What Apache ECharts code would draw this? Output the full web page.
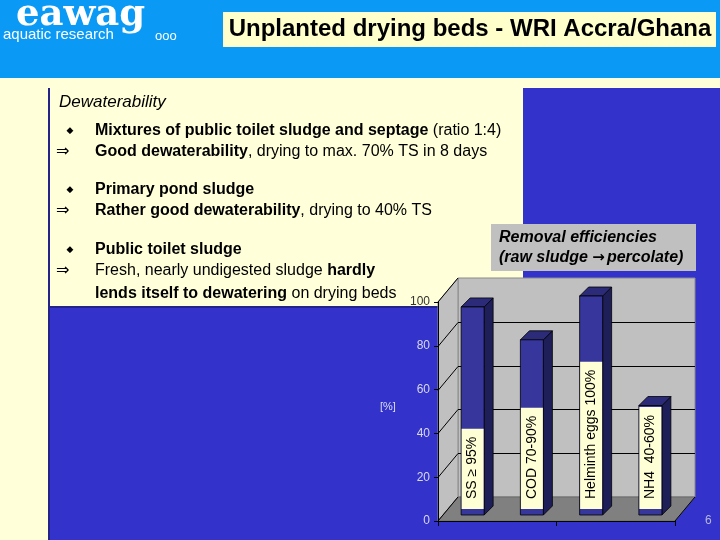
<!DOCTYPE html>
<html><head><meta charset="utf-8">
<script src="https://cdn.jsdelivr.net/npm/echarts@6/dist/echarts.min.js"></script>
<style>html,body{margin:0;padding:0;background:#FFFFD9}#c{width:720px;height:540px}</style>
</head><body><div id="c"></div><script>
// ---- data ----
const categories = ['SS', 'COD', 'Helminth eggs', 'NH4'];
const removalValues = [95, 80, 100, 50];
const barLabels = ['SS \u2265 95%', 'COD 70-90%', 'Helminth eggs 100%', 'NH4  40-60%'];
const yTicks = [0, 20, 40, 60, 80, 100];

// ---- style constants ----
const FONT = 'Arial, "Liberation Sans", sans-serif';
const DX = 20, DY = -24;     // depth of 3D frame
const SHX = 5, SHY = -6;     // bar placement inside depth
const BAR_W = 23, BD = 9;    // bar width, bar depth

const chart = echarts.init(document.getElementById('c'));

function renderFrame(params, api) {
  const cs = params.coordSys;
  const x0 = cs.x, x1 = cs.x + cs.width, yT = cs.y, yB = cs.y + cs.height;
  const ch = [];
  ch.push({type: 'polygon', shape: {points: [[x0 + DX, yT + DY], [x1 + DX, yT + DY], [x1 + DX, yB + DY], [x0 + DX, yB + DY]]},
    style: {fill: '#C0C0C0', stroke: '#8a8a8a', lineWidth: 1}});
  ch.push({type: 'polygon', shape: {points: [[x0, yT], [x0 + DX, yT + DY], [x0 + DX, yB + DY], [x0, yB]]},
    style: {fill: '#C0C0C0', stroke: '#8a8a8a', lineWidth: 1}});
  ch.push({type: 'polygon', shape: {points: [[x0, yB], [x1, yB], [x1 + DX, yB + DY], [x0 + DX, yB + DY]]},
    style: {fill: '#808080', stroke: '#6a6a6a', lineWidth: 1}});
  yTicks.forEach(t => {
    if (t === 0 || t === 100) return;
    const y = Math.round(api.coord([0, t])[1]) + 0.5;
    ch.push({type: 'polyline', shape: {points: [[x0, y], [x0 + DX, y + DY], [x1 + DX, y + DY]]},
      style: {stroke: '#000', lineWidth: 1, fill: null}});
  });
  ch.push({type: 'line', shape: {x1: x0, y1: yB, x2: x0 + DX, y2: yB + DY}, style: {stroke: '#000', lineWidth: 1}});
  ch.push({type: 'line', shape: {x1: x0, y1: yT, x2: x0 + DX, y2: yT + DY}, style: {stroke: '#000', lineWidth: 1}});
  ch.push({type: 'line', shape: {x1: x1, y1: yB, x2: x1 + DX, y2: yB + DY}, style: {stroke: '#000', lineWidth: 1}});
  return {type: 'group', children: ch};
}

function renderBar(params, api) {
  const i = api.value(0), v = api.value(1);
  const b = api.coord([i, 0]), t = api.coord([i, v]);
  const cx = b[0] + SHX, yb = b[1] + SHY, yt = t[1] + SHY;
  const xl = cx - BAR_W / 2, xr = cx + BAR_W / 2;
  return {type: 'group', children: [
    {type: 'polygon', shape: {points: [[xr, yt], [xr + BD, yt - BD], [xr + BD, yb - BD], [xr, yb]]},
      style: {fill: '#1E1E58', stroke: '#000', lineWidth: 0.8}},
    {type: 'polygon', shape: {points: [[xl, yt], [xr, yt], [xr + BD, yt - BD], [xl + BD, yt - BD]]},
      style: {fill: '#2B2B7A', stroke: '#000', lineWidth: 0.8}},
    {type: 'rect', shape: {x: xl, y: yt, width: BAR_W, height: yb - yt},
      style: {fill: '#36369C', stroke: '#000', lineWidth: 0.8}},
    {type: 'text', x: cx, y: yb - 6, rotation: Math.PI / 2,
      style: {text: barLabels[params.dataIndex], fill: '#000', font: '14px ' + FONT,
        align: 'left', verticalAlign: 'middle', lineHeight: BAR_W - 1,
        backgroundColor: '#FFFFD5', padding: [0, 8, 0, 10]}}
  ]};
}

const rich = {
  b: {fontFamily: FONT, fontSize: 16, fontWeight: 'bold', color: '#000'},
  h: {fontFamily: FONT, fontSize: 16, fontWeight: 'bold', color: '#12128F'},
  n: {fontFamily: FONT, fontSize: 16, color: '#222'}
};
function pText(x, y, text, z) {
  return {type: 'text', x: x, y: y, z: z || 5, style: {text: text, rich: rich, verticalAlign: 'middle', align: 'left'}};
}
function bullet(y) {
  return {type: 'text', x: 70, y: y, style: {text: '\u25C6', fill: '#000', font: '9px "DejaVu Sans", sans-serif', align: 'center', verticalAlign: 'middle'}};
}
function arrow(y) {
  return {type: 'text', x: 56, y: y, style: {text: '\u21D2', fill: '#000', font: '16px "DejaVu Sans", sans-serif', verticalAlign: 'middle'}};
}

const graphic = [
  {type: 'rect', z: -20, shape: {x: 0, y: 0, width: 720, height: 78}, style: {fill: '#0A99F5'}},
  {type: 'rect', z: -20, shape: {x: 48, y: 88, width: 672, height: 452}, style: {fill: '#3333CC'}},
  {type: 'rect', z: -19, shape: {x: 50, y: 88, width: 473, height: 219}, style: {fill: '#FFFFD9'}},
  {type: 'rect', z: -18, shape: {x: 48, y: 88, width: 2, height: 452}, style: {fill: '#23238A'}},
  {type: 'rect', z: -18, shape: {x: 48, y: 306, width: 475, height: 2}, style: {fill: '#23238A'}},
  // logo
  {type: 'text', x: 16, y: -3, style: {text: 'eawag', fill: '#fff', font: 'bold 37px "DejaVu Serif", serif', verticalAlign: 'top'}},
  {type: 'text', x: 3, y: 35, style: {text: 'aquatic research', fill: '#fff', font: '15px ' + FONT, verticalAlign: 'middle'}},
  {type: 'text', x: 155, y: 36, style: {text: 'ooo', fill: '#fff', font: '13px ' + FONT, verticalAlign: 'middle'}},
  // title
  {type: 'rect', shape: {x: 223, y: 12, width: 493, height: 35}, style: {fill: '#FFFFCC'}},
  {type: 'text', x: 470, y: 29, style: {text: 'Unplanted drying beds - WRI Accra/Ghana', fill: '#000',
    font: 'bold 24px ' + FONT, align: 'center', verticalAlign: 'middle'}},
  // panel text
  {type: 'text', x: 59, y: 102, style: {text: 'Dewaterability', fill: '#000', font: 'italic 17px ' + FONT, verticalAlign: 'middle'}},
  bullet(131), arrow(152), bullet(190), arrow(211), bullet(250), arrow(271),
  pText(95, 131, '{b|Mixtures of public toilet sludge and septage}{n| (ratio 1:4)}'),
  pText(95, 152, '{h|Good dewaterability}{n|, drying to max. 70% TS in 8 days}'),
  pText(95, 190, '{b|Primary pond sludge}'),
  pText(95, 211, '{h|Rather good dewaterability}{n|, drying to 40% TS}'),
  pText(95, 250, '{b|Public toilet sludge}'),
  pText(95, 271, '{n|Fresh, nearly undigested sludge }{h|hardly}'),
  pText(95, 294, '{h|lends itself to dewatering}{n| on drying beds}'),
  // chart title box
  {type: 'rect', z: 100, shape: {x: 491, y: 224, width: 205, height: 47}, style: {fill: '#C0C0C0'}},
  {type: 'text', z: 101, x: 499, y: 238, style: {text: 'Removal efficiencies', fill: '#000', font: 'italic bold 16px ' + FONT, verticalAlign: 'middle'}},
  {type: 'text', z: 101, x: 499, y: 258, style: {text: '(raw sludge {a|\u2192}percolate)', fill: '#000', font: 'italic bold 16px ' + FONT, verticalAlign: 'middle',
    rich: {a: {fontFamily: '"DejaVu Sans", sans-serif', fontSize: 15, fontWeight: 'bold', color: '#000', padding: [0, 2, 0, 0]}}}},
  {type: 'text', z: 101, x: 380, y: 407, style: {text: '[%]', fill: '#DDDDEE', font: '11px ' + FONT, verticalAlign: 'middle'}},
  {type: 'text', z: 101, x: 705, y: 521, style: {text: '6', fill: '#B8B8D8', font: '12px ' + FONT, verticalAlign: 'middle'}}
];

chart.setOption({
  animation: false,
  backgroundColor: '#FFFFD9',
  graphic: graphic,
  grid: {left: 438, top: 302, width: 237, height: 219},
  xAxis: {type: 'category', data: categories, z: 10,
    axisLabel: {show: false},
    axisLine: {lineStyle: {color: '#000', width: 1}},
    axisTick: {show: true, length: 5, lineStyle: {color: '#000'}}},
  yAxis: {type: 'value', min: 0, max: 100, interval: 20, z: 10,
    axisLine: {show: true, lineStyle: {color: '#000', width: 1}},
    axisTick: {show: true, length: 4, lineStyle: {color: '#000'}},
    splitLine: {show: false},
    axisLabel: {fontFamily: FONT, fontSize: 12, color: '#D8D8E8', margin: 8,
      formatter: v => v === 100 ? '{d|100}' : String(v),
      rich: {d: {fontFamily: FONT, fontSize: 12, color: '#333'}}}},
  series: [
    {type: 'custom', z: 1, renderItem: renderFrame, data: [[0, 0]], silent: true},
    {type: 'custom', z: 3, renderItem: renderBar, data: removalValues.map((v, i) => [i, v]),
      encode: {x: 0, y: 1}}
  ]
});
</script></body></html>
